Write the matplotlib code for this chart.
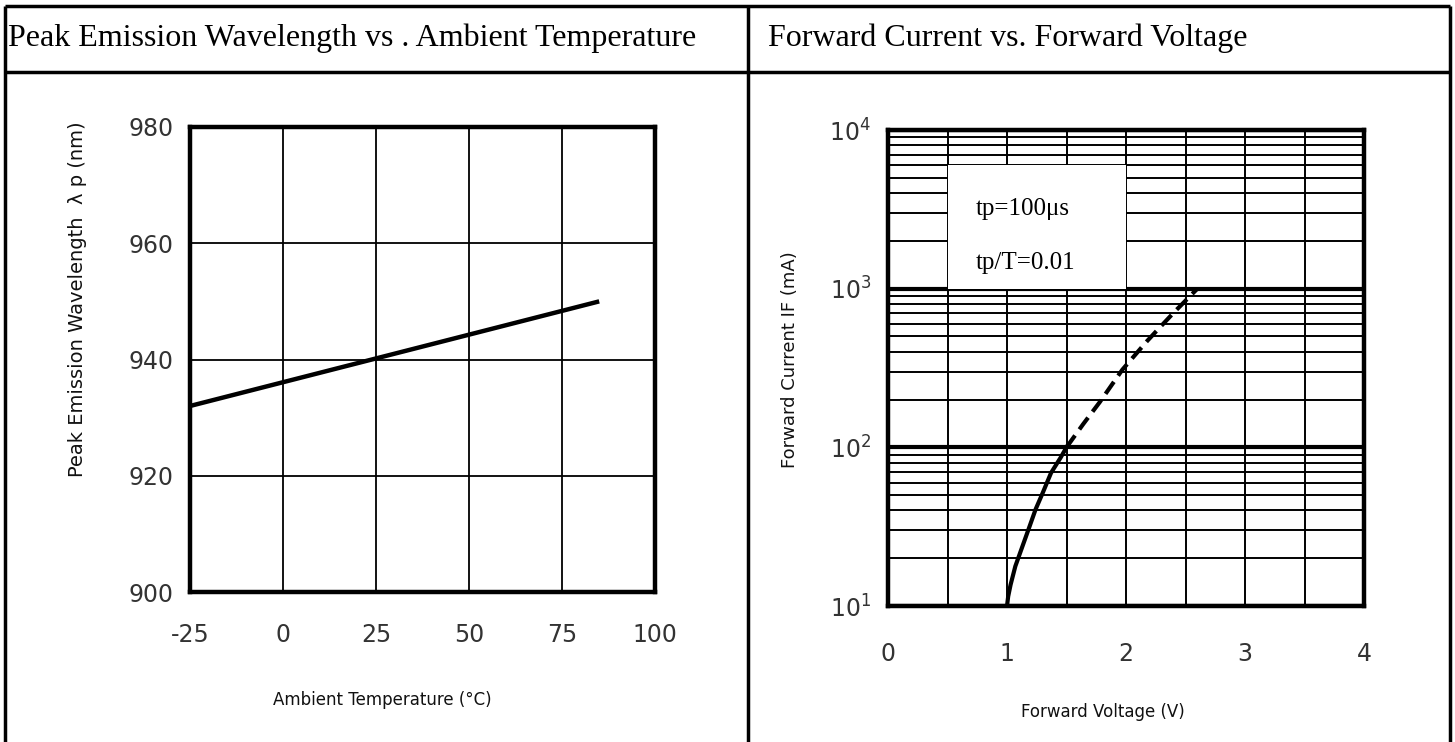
import matplotlib
matplotlib.use("Agg")
import matplotlib.pyplot as plt
from matplotlib.patches import Rectangle
from matplotlib.ticker import FixedLocator, LogLocator, NullFormatter

plt.rcParams["axes.unicode_minus"] = False

# left panel: peak wavelength vs ambient temperature
temp_c = [-25, 85]
peak_nm = [932, 950]
temp_ticks = [-25, 0, 25, 50, 75, 100]
wl_ticks = [900, 920, 940, 960, 980]

# right panel: forward current vs forward voltage
vf_solid = [1.0, 1.01, 1.03, 1.07, 1.13, 1.19, 1.24, 1.30, 1.37, 1.45, 1.5]
if_solid = [10, 11.5, 13.6, 17.8, 23.8, 31.8, 40.6, 51.6, 69, 86, 100]
vf_dash = [1.5, 1.64, 1.78, 1.97, 2.18, 2.40, 2.60]
if_dash = [100, 140, 193, 309, 470, 705, 1000]
v_ticks = [0, 1, 2, 3, 4]
i_ticks = [10, 100, 1000, 10000]
i_labels = [r"$10^{1}$", r"$10^{2}$", r"$10^{3}$", r"$10^{4}$"]

W, H = 1455, 742
fig = plt.figure(figsize=(W / 100, H / 100), dpi=100)

# background layer in pixel coords for the table frame and labels
bg = fig.add_axes([0, 0, 1, 1], zorder=-1)
bg.set_xlim(0, W)
bg.set_ylim(H, 0)
bg.axis("off")
frame = dict(color="black", lw=2.5, solid_capstyle="butt")
bg.plot([5, 5], [6, H], **frame)
bg.plot([1450, 1450], [6, H], **frame)
bg.plot([748, 748], [6, H], **frame)
bg.plot([5, 1450], [6, 6], **frame)
bg.plot([5, 1450], [72, 72], **frame)

head = dict(family="Liberation Serif", fontsize=23, va="center", ha="left")
bg.text(8, 38, "Peak Emission Wavelength vs . Ambient Temperature", **head)
bg.text(768, 38, "Forward Current vs. Forward Voltage", **head)

lab = dict(family="DejaVu Sans", ha="center", va="center", color="#111111")
bg.text(78, 299, "Peak Emission Wavelength  λ p (nm)", rotation=90, fontsize=14, **lab)
bg.text(382, 700, "Ambient Temperature (°C)", fontsize=12, **lab)
bg.text(790, 360, "Forward Current IF (mA)", rotation=90, fontsize=13, **lab)
bg.text(1103, 712, "Forward Voltage (V)", fontsize=12, **lab)

tick_col = "#333333"

# ---- left chart
ax1 = fig.add_axes([190 / W, 1 - 592 / H, 465 / W, 465 / H])
ax1.plot(temp_c, peak_nm, color="black", lw=3.2, solid_capstyle="butt", zorder=3)
ax1.set_xlim(-25, 100)
ax1.set_ylim(900, 980)
ax1.set_xticks(temp_ticks)
ax1.set_yticks(wl_ticks)
ax1.grid(True, color="black", lw=1.3)
ax1.set_axisbelow(True)
ax1.tick_params(length=0, labelsize=17, labelcolor=tick_col)
ax1.tick_params(axis="x", pad=22)
ax1.tick_params(axis="y", pad=12)
for sp in ax1.spines.values():
    sp.set_linewidth(3.2)

# ---- right chart
ax2 = fig.add_axes([888 / W, 1 - 606 / H, 476 / W, 476 / H])
ax2.set_yscale("log")
ax2.set_xlim(0, 4)
ax2.set_ylim(10, 10000)
ax2.xaxis.set_major_locator(FixedLocator(v_ticks))
ax2.xaxis.set_minor_locator(FixedLocator([0.5, 1.5, 2.5, 3.5]))
ax2.yaxis.set_major_locator(FixedLocator(i_ticks))
ax2.yaxis.set_minor_locator(LogLocator(base=10, subs=range(2, 10)))
ax2.yaxis.set_minor_formatter(NullFormatter())
ax2.set_yticklabels(i_labels)
ax2.grid(True, which="major", axis="y", color="black", lw=3.0)
ax2.grid(True, which="minor", axis="y", color="black", lw=1.4)
ax2.grid(True, which="both", axis="x", color="black", lw=1.4)
ax2.set_axisbelow(True)
ax2.tick_params(which="both", length=0, labelsize=17, labelcolor=tick_col)
ax2.tick_params(axis="x", pad=26)
ax2.tick_params(axis="y", pad=12)

# white note box covering the grid
ax2.add_patch(Rectangle((0.5, 1000), 1.5, 5000, facecolor="white",
                        edgecolor="none", zorder=1.5))
note = dict(family="Liberation Serif", fontsize=18, va="center", zorder=4)
ax2.text(0.74, 3200, "tp=100μs", **note)
ax2.text(0.74, 1450, "tp/T=0.01", **note)

ax2.plot(vf_solid, if_solid, color="black", lw=3.0, zorder=3)
ax2.plot(vf_dash, if_dash, color="black", lw=3.0, ls=(0, (3.5, 1.8)), zorder=3)
for sp in ax2.spines.values():
    sp.set_linewidth(3.2)
    sp.set_zorder(5)

fig.savefig("out.png", dpi=100)
